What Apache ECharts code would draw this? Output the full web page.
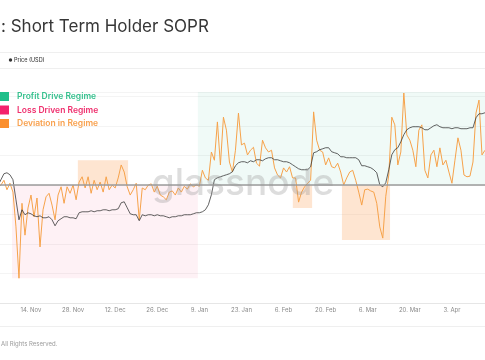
<!DOCTYPE html>
<html>
<head>
<meta charset="utf-8">
<script src="https://cdn.jsdelivr.net/npm/echarts@6/dist/echarts.min.js"></script>
<style>
html,body{margin:0;padding:0;background:#fff;}
#chart{width:485px;height:360px;}
</style>
</head>
<body>
<div id="chart"></div>
<script>
// ---- data (daily, starting 2022-11-03) ----
const startDate = '2022-11-03';
const sopr = [
0.995,1.000,1.008,0.992,1.003,0.988,0.929,0.842,0.969,0.915,
0.961,0.983,0.946,0.978,0.895,0.958,0.980,0.986,0.966,0.941,
0.983,0.997,0.969,0.997,0.986,1.000,0.975,1.005,1.014,0.995,
1.014,0.986,1.008,0.992,1.005,0.988,1.014,0.992,1.000,0.995,
1.012,1.034,1.022,0.997,0.983,0.992,1.003,0.941,0.995,0.992,
1.000,1.002,0.988,0.998,0.983,0.980,0.975,0.988,0.990,0.983,
0.995,0.988,0.998,0.993,1.002,0.997,1.000,0.998,1.025,1.012,
1.008,1.056,1.042,1.107,1.034,1.115,1.093,1.039,1.022,1.059,
1.122,1.068,1.071,1.051,1.059,1.064,1.037,1.032,1.076,1.063,
1.056,1.059,1.029,1.017,1.012,1.029,1.022,1.031,1.012,1.012,
0.971,0.988,0.997,1.003,1.008,1.124,1.076,1.059,1.056,1.034,
1.046,1.031,1.029,1.037,1.022,1.000,1.012,1.022,1.025,1.008,
0.988,0.966,0.992,0.993,0.990,0.988,0.969,0.929,0.910,0.981,
1.017,1.115,1.102,1.034,1.056,1.156,1.085,1.076,1.059,1.031,
1.093,1.102,1.025,1.012,1.051,1.059,1.031,1.063,1.034,1.042,
1.022,1.003,1.042,1.080,1.059,1.017,1.014,1.015,1.039,1.122,
1.144,1.051,1.059
];
const price = [
20340,21150,21960,22090,21820,21150,18440,15740,17090,16420,
16690,16550,16280,16150,16280,16010,16010,16150,15740,14930,
15610,15880,16150,16150,16010,16010,15880,16690,16820,16820,
16820,16960,16820,16960,16960,17090,17090,16960,17090,17090,
17230,18040,18170,17360,16550,16420,16420,15610,16420,16280,
16420,16420,16280,16420,16280,16280,16150,16010,16150,16150,
16280,16280,16420,16420,16420,16550,16690,16690,16820,17090,
17770,19120,21150,21420,21550,21690,21820,21960,22230,23040,
23440,23580,23580,23440,23710,23580,23850,23850,23710,23980,
24120,24120,23850,23850,23710,23580,23580,23440,23170,22900,
22630,22500,22500,22500,22900,24790,24930,25200,25330,25470,
25470,24930,24790,24660,24250,24250,24120,24120,24120,24120,
23850,23040,23040,22900,22770,22500,22090,20470,20200,20740,
22500,24520,25200,25470,26280,27230,27900,28170,28310,28310,
28310,28170,27900,27900,28170,28440,28580,28310,28170,28170,
28170,28040,28170,28170,28040,28040,28040,28170,28170,29520,
30060,30060,30200
];
const tickDates = ['2022-11-14','2022-11-28','2022-12-12','2022-12-26','2023-01-09','2023-01-23',
  '2023-02-06','2023-02-20','2023-03-06','2023-03-20','2023-04-03'];
const monthNames = ['Jan','Feb','Mar','Apr','May','Jun','Jul','Aug','Sep','Oct','Nov','Dec'];
// regimes: [start, end, soprLow, soprHigh]
const profitRegime = ['2023-01-08T12:00:00Z', '2023-04-14T00:00:00Z', 1, 1.1577];
const lossRegime = ['2022-11-07T16:00:00Z', '2023-01-08T12:00:00Z', 0.842, 1];
const deviations = [
  ['2022-11-29T14:00:00Z', '2022-12-16T07:00:00Z', 1, 1.042],
  ['2023-02-09T02:00:00Z', '2023-02-15T12:00:00Z', 0.961, 1],
  ['2023-02-25T10:00:00Z', '2023-03-13T10:00:00Z', 0.907, 1]
];
const legendNames = ['Profit Drive Regime', 'Loss Driven Regime', 'Deviation in Regime'];
const legendColors = ['#1fbf8a', '#f3226c', '#fb8f2e'];
const legendTextColors = ['#36c08e', '#ef2f6d', '#f8a04d'];

// ---- build ----
const DAY = 86400000;
const t0 = Date.parse(startDate + 'T00:00:00Z');
const soprData = sopr.map((v, i) => [t0 + i * DAY, v]);
const priceData = price.map((v, i) => [t0 + i * DAY, v]);
const ts = s => Date.parse(s);
const area = (r, color) => [
  { xAxis: ts(r[0]), yAxis: r[3], itemStyle: { color: color } },
  { xAxis: ts(r[1]), yAxis: r[2] }
];

const chart = echarts.init(document.getElementById('chart'), null, { renderer: 'canvas' });
const FONT = 'Inter, "Noto Sans", sans-serif';

const graphics = [
  { type: 'text', left: 1, top: 18, z: 100, style: { text: ': Short Term Holder SOPR', font: '400 17px ' + FONT, fill: '#363636' } },
  { type: 'line', shape: { x1: 0, y1: 52.5, x2: 485, y2: 52.5 }, style: { stroke: '#efefef', lineWidth: 1 } },
  { type: 'line', shape: { x1: 0, y1: 68.5, x2: 485, y2: 68.5 }, style: { stroke: '#efefef', lineWidth: 1 } },
  { type: 'circle', shape: { cx: 10.5, cy: 60, r: 1.7 }, style: { fill: '#333' } },
  { type: 'text', x: 14, y: 60, style: { text: 'Price (USD)', font: '500 5.5px ' + FONT, fill: '#444', verticalAlign: 'middle' } },
  { type: 'line', shape: { x1: 0, y1: 326.5, x2: 485, y2: 326.5 }, style: { stroke: '#efefef', lineWidth: 1 } },
  { type: 'text', x: 1, y: 344, style: { text: 'All Rights Reserved.', font: '400 6px ' + FONT, fill: '#9a9a9a', verticalAlign: 'middle' } },
  { type: 'text', x: 243, y: 184, z: 100, style: { text: 'glassnode', font: '500 37px ' + FONT, fill: 'rgba(150,150,150,0.32)', align: 'center', verticalAlign: 'middle' } }
];
legendNames.forEach((name, k) => {
  const cy = 96.5 + k * 13.5;
  graphics.push({ type: 'rect', z: 100, shape: { x: -1, y: cy - 4.5, width: 10, height: 9 }, style: { fill: legendColors[k] } });
  graphics.push({ type: 'text', z: 100, x: 17, y: cy, style: { text: name, font: '600 8.5px ' + FONT, fill: legendTextColors[k], verticalAlign: 'middle' } });
});

chart.setOption({
  animation: false,
  backgroundColor: '#fff',
  grid: { left: 0, right: 0, top: 92, bottom: 57, containLabel: false },
  xAxis: {
    type: 'value',
    min: t0 + 0.69 * DAY,
    max: ts('2023-04-14T00:00:00Z'),
    axisLine: { show: true, lineStyle: { color: '#e6e6e6', width: 1 } },
    axisTick: { show: false },
    splitLine: { show: false },
    axisLabel: {
      customValues: tickDates.map(d => ts(d + 'T00:00:00Z')),
      formatter: v => { const d = new Date(v); return d.getUTCDate() + '. ' + monthNames[d.getUTCMonth()]; },
      fontSize: 6, color: '#8a8a8a', fontFamily: FONT, margin: 4, hideOverlap: false
    }
  },
  yAxis: [
    {
      type: 'value', min: 0.8, max: 1.1577, interval: 0.05,
      axisLine: { show: false }, axisTick: { show: false }, axisLabel: { show: false },
      splitLine: { show: true, lineStyle: { color: '#f4f4f4', width: 1 } }
    },
    {
      type: 'value', min: 4500, max: 33000, show: false, splitLine: { show: false }
    }
  ],
  series: [
    {
      name: 'STH-SOPR', type: 'line', yAxisIndex: 0, data: soprData,
      showSymbol: false, symbol: 'none',
      lineStyle: { color: '#f6a24a', width: 1 },
      z: 3,
      markArea: {
        silent: true,
        data: [
          area(lossRegime, 'rgba(244,60,110,0.07)'),
          area(profitRegime, 'rgba(40,185,140,0.07)')
        ].concat(deviations.map(r => area(r, 'rgba(250,150,70,0.25)')))
      },
      markLine: {
        silent: true, symbol: 'none', label: { show: false },
        lineStyle: { color: '#9b9b9b', width: 1.5, type: 'solid' },
        data: [{ yAxis: 1 }]
      }
    },
    {
      name: 'Price (USD)', type: 'line', yAxisIndex: 1, data: priceData,
      showSymbol: false, symbol: 'none',
      lineStyle: { color: '#3a3a3a', width: 0.8 },
      z: 4
    }
  ],
  graphic: graphics
});
</script>
</body>
</html>
